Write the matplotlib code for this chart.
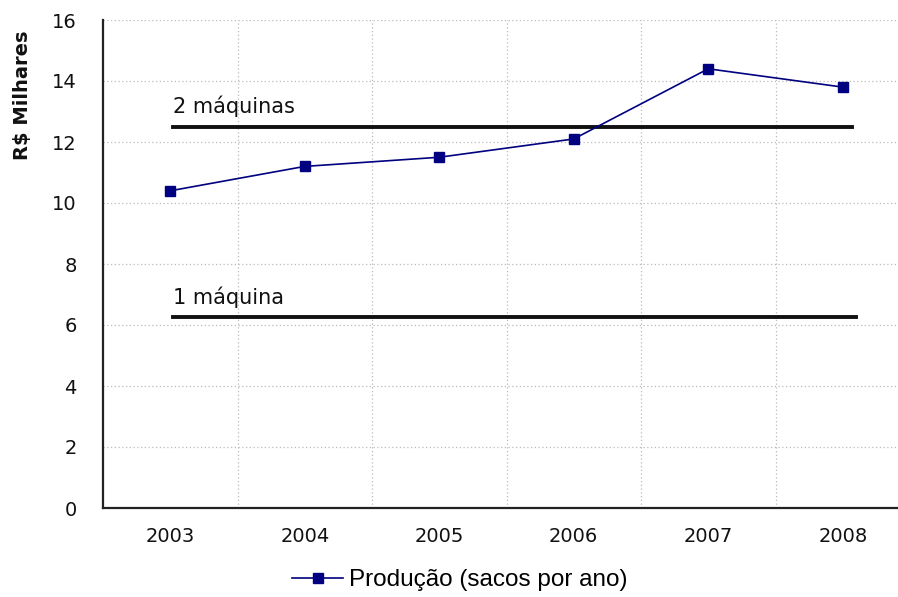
import matplotlib
matplotlib.use("Agg")
import matplotlib.pyplot as plt
import numpy as np

years = ["2003", "2004", "2005", "2006", "2007", "2008"]
producao = [10.4, 11.2, 11.5, 12.1, 14.4, 13.8]
limite_2 = 12.5
limite_1 = 6.25
yticks = [0, 2, 4, 6, 8, 10, 12, 14, 16]

plt.rcParams["font.family"] = ["DejaVu Sans"]

fig = plt.figure(figsize=(8.98, 5.97), dpi=100)
ax = fig.add_axes([103 / 898, 89 / 597, 807 / 898, 488 / 597])

x = np.arange(len(years))
ax.plot(x, producao, color="#000080", lw=1.2, marker="s", markersize=7.5,
        label="Produção (sacos por ano)", zorder=4)

# reference lines for machine capacity
ax.plot([0.02, 5.07], [limite_2, limite_2], color="#111111", lw=2.8, zorder=3)
ax.plot([0.02, 5.10], [limite_1, limite_1], color="#111111", lw=2.8, zorder=3)
ax.text(0.02, limite_2 + 0.46, "2 máquinas", fontsize=15, va="baseline", ha="left", color="#111111")
ax.text(0.02, limite_1 + 0.43, "1 máquina", fontsize=15, va="baseline", ha="left", color="#111111")

ax.set_xlim(-0.5, 5.5)
ax.set_ylim(0, 16)
ax.set_xticks(x)
ax.set_xticklabels(years)
ax.set_yticks(yticks)
ax.set_xticks(x[:-1] + 0.5, minor=True)
ax.tick_params(axis="both", which="both", length=0, labelsize=14, colors="#111111")
ax.tick_params(axis="y", pad=19)
ax.tick_params(axis="x", pad=14)
ax.grid(True, axis="y", which="major", color="#bbbbbb", ls=(0, (1, 2)), lw=0.9)
ax.grid(True, axis="x", which="minor", color="#bbbbbb", ls=(0, (1, 2)), lw=0.9)
ax.grid(False, axis="x", which="major")

for side in ["top", "right"]:
    ax.spines[side].set_visible(False)
for side in ["left", "bottom"]:
    ax.spines[side].set_linewidth(1.6)
    ax.spines[side].set_color("#222222")

fig.text(23 / 898, 1 - 95 / 597, "R$ Milhares", rotation=90, fontsize=14,
         fontweight="bold", ha="center", va="center", color="#111111")

fig.legend(loc="center left", bbox_to_anchor=(292 / 898, 1 - 580 / 597), frameon=False,
           prop={"family": "Liberation Sans", "size": 17.5},
           handlelength=2.1, handletextpad=0.25, borderaxespad=0, borderpad=0)

fig.savefig("out.png", dpi=100)
